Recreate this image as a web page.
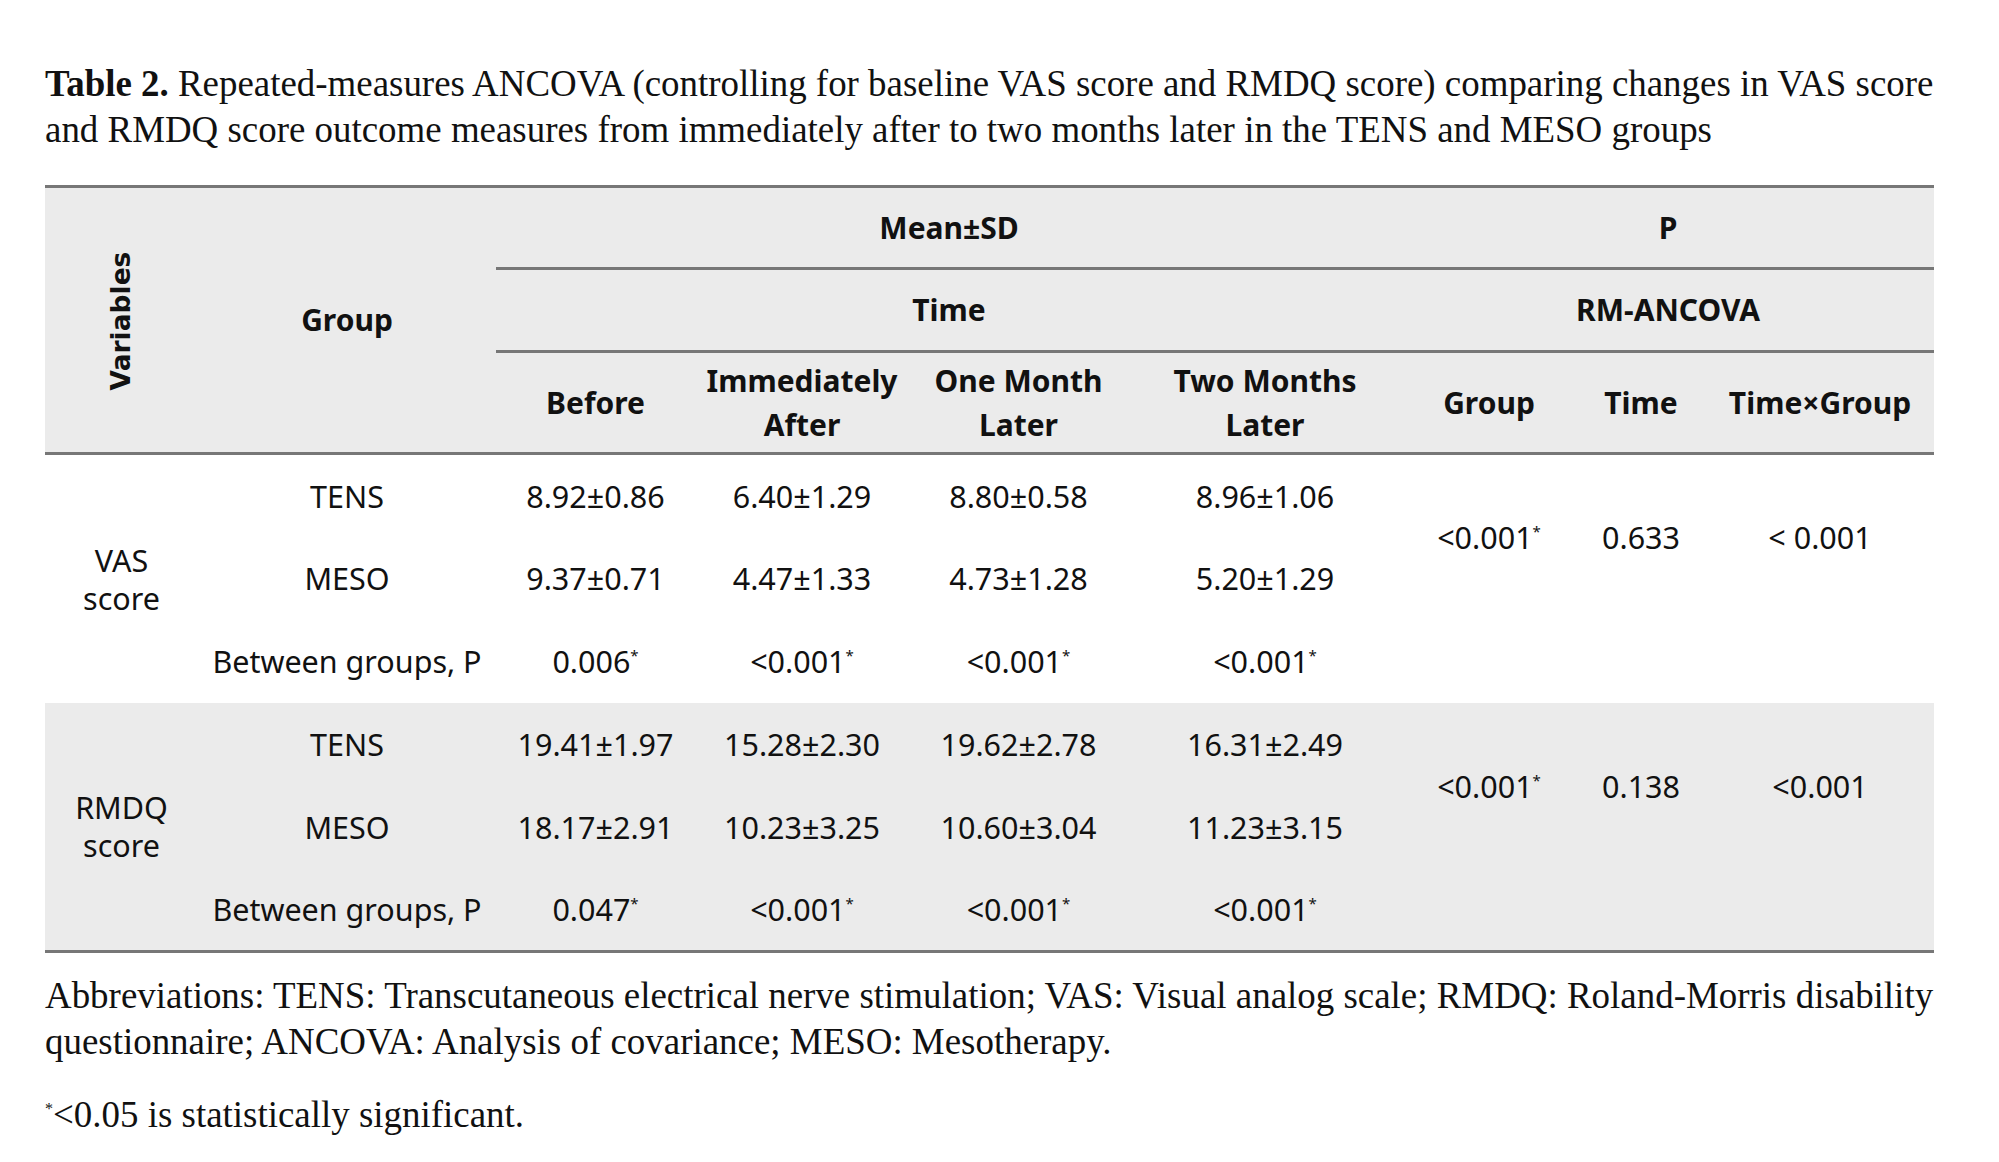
<!DOCTYPE html>
<html>
<head>
<meta charset="utf-8">
<script src="https://cdn.jsdelivr.net/npm/chart.js@4.4.1/dist/chart.umd.min.js"></script>
<style>
  html, body { margin: 0; padding: 0; background: #fff; }
  body { width: 1999px; height: 1162px; position: relative; overflow: hidden; }
  .serif { font-family: "Liberation Serif", "DejaVu Serif", serif; color: #111; position: absolute; left: 45px; }
  .serif div { white-space: nowrap; line-height: 46px; height: 46px; }
  #caption { top: 61px; }
  #notes { top: 973px; }
  #signif { top: 1086px; }
  #tbl {
    position: absolute; left: 45px; top: 185px; width: 1889px;
    border-collapse: collapse; table-layout: fixed;
    font-family: "Noto Sans", "Open Sans", sans-serif; font-size: 30.5px; color: #111;
  }
  #tbl td, #tbl th { padding: 0; text-align: center; vertical-align: middle; line-height: 38px; }
  #tbl thead th { background: #ebebeb; font-weight: bold; font-size: 30px; line-height: 44px; }
  #tbl thead tr:first-child th { border-top: 3px solid #777; }
  #tbl thead tr:last-child th, #tbl thead th.lab { border-bottom: 3px solid #777; }
  #tbl .sub { border-bottom: 3px solid #777; }
  #tbl tbody.shade td { background: #ebebeb; }
  #tbl tbody.shade tr:last-child td, #tbl tbody.shade td.lab { border-bottom: 3px solid #777; }
  #tbl sup { font-size: 15px; vertical-align: 12px; line-height: 0; }
  .vert { display: inline-block; transform: rotate(-90deg); font-family: "DejaVu Sans", sans-serif; font-size: 26.5px; white-space: nowrap; }
</style>
</head>
<body>
<div id="caption" class="serif"></div>
<table id="tbl"></table>
<div id="notes" class="serif"></div>
<div id="signif" class="serif"></div>

<script>
// Table values
const timeLabels = ['Before', 'Immediately<br>After', 'One Month<br>Later', 'Two Months<br>Later'];
const ancovaLabels = ['Group', 'Time', 'Time×Group'];
const rowLabels = ['TENS', 'MESO', 'Between groups, P'];

const vasTensMean = [8.92, 6.40, 8.80, 8.96];
const vasTensSd = [0.86, 1.29, 0.58, 1.06];
const vasMesoMean = [9.37, 4.47, 4.73, 5.20];
const vasMesoSd = [0.71, 1.33, 1.28, 1.29];
const vasBetween = ['0.006*', '<0.001*', '<0.001*', '<0.001*'];
const vasAncova = ['<0.001*', '0.633', '< 0.001'];

const rmdqTensMean = [19.41, 15.28, 19.62, 16.31];
const rmdqTensSd = [1.97, 2.30, 2.78, 2.49];
const rmdqMesoMean = [18.17, 10.23, 10.60, 11.23];
const rmdqMesoSd = [2.91, 3.25, 3.04, 3.15];
const rmdqBetween = ['0.047*', '<0.001*', '<0.001*', '<0.001*'];
const rmdqAncova = ['<0.001*', '0.138', '<0.001'];

const colWidths = [153, 298, 199, 214, 219, 274, 174, 130, 228];
const rowHeights = [82, 83, 102];
const bodyRowHeight = 83;

const captionLines = [
    '<b>Table 2.</b> Repeated-measures ANCOVA (controlling for baseline VAS score and RMDQ score) comparing changes in VAS score',
    'and RMDQ score outcome measures from immediately after to two months later in the TENS and MESO groups'
];
const noteLines = [
    'Abbreviations: TENS: Transcutaneous electrical nerve stimulation; VAS: Visual analog scale; RMDQ: Roland-Morris disability',
    'questionnaire; ANCOVA: Analysis of covariance; MESO: Mesotherapy.'
];
const signifLines = ['<sup style="font-size:16px">*</sup>&lt;0.05 is statistically significant.'];

function star(txt) {
    const esc = txt.replace(/</g, '&lt;');
    return esc.endsWith('*') ? esc.slice(0, -1) + '<sup>*</sup>' : esc;
}

function fmt(means, sds) {
    return means.map((m, i) => m.toFixed(2) + '±' + sds[i].toFixed(2));
}

const tbl = document.getElementById('tbl');

// column widths
let html = '<colgroup>' + colWidths.map(w => `<col style="width:${w}px">`).join('') + '</colgroup>';

// header
html += '<thead>';
html += `<tr style="height:${rowHeights[0]}px">
  <th rowspan="3" class="lab"><span class="vert">Variables</span></th>
  <th rowspan="3" class="lab">Group</th>
  <th colspan="4" class="sub">Mean±SD</th>
  <th colspan="3" class="sub">P</th></tr>`;
html += `<tr style="height:${rowHeights[1]}px">
  <th colspan="4" class="sub">Time</th>
  <th colspan="3" class="sub">RM-ANCOVA</th></tr>`;
html += `<tr style="height:${rowHeights[2]}px">` +
    timeLabels.map(t => `<th>${t}</th>`).join('') +
    ancovaLabels.map(t => `<th>${t}</th>`).join('') + '</tr>';
html += '</thead>';

function block(label, tens, meso, between, ancova, cls) {
    let b = `<tbody class="${cls}">`;
    b += `<tr style="height:${bodyRowHeight}px"><td rowspan="3" class="lab">${label}</td><td>${rowLabels[0]}</td>` +
        tens.map(v => `<td>${v}</td>`).join('') +
        ancova.map(v => `<td rowspan="2">${star(v)}</td>`).join('') + '</tr>';
    b += `<tr style="height:${bodyRowHeight}px"><td>${rowLabels[1]}</td>` +
        meso.map(v => `<td>${v}</td>`).join('') + '</tr>';
    b += `<tr style="height:${bodyRowHeight}px"><td>${rowLabels[2]}</td>` +
        between.map(v => `<td>${star(v)}</td>`).join('') +
        ancova.map(() => '<td></td>').join('') + '</tr>';
    return b + '</tbody>';
}

html += block('VAS<br>score', fmt(vasTensMean, vasTensSd), fmt(vasMesoMean, vasMesoSd), vasBetween, vasAncova, 'plain');
html += block('RMDQ<br>score', fmt(rmdqTensMean, rmdqTensSd), fmt(rmdqMesoMean, rmdqMesoSd), rmdqBetween, rmdqAncova, 'shade');
tbl.innerHTML = html;

// caption and notes, font size fitted so the first line spans the table width
function fill(id, lines, fitWidth) {
    const el = document.getElementById(id);
    el.innerHTML = lines.map(l => `<div>${l}</div>`).join('');
    el.style.fontSize = '32px';
    if (fitWidth) {
        const first = el.firstChild;
        first.style.display = 'inline-block';
        const w = first.getBoundingClientRect().width;
        first.style.display = '';
        el.style.fontSize = (32 * fitWidth / w).toFixed(2) + 'px';
    }
    return el;
}

const cap = fill('caption', captionLines, 1889);
const notes = fill('notes', noteLines, 1889);
const sig = document.getElementById('signif');
sig.innerHTML = signifLines.map(l => `<div>${l}</div>`).join('');
sig.style.fontSize = notes.style.fontSize;
</script>
</body>
</html>
